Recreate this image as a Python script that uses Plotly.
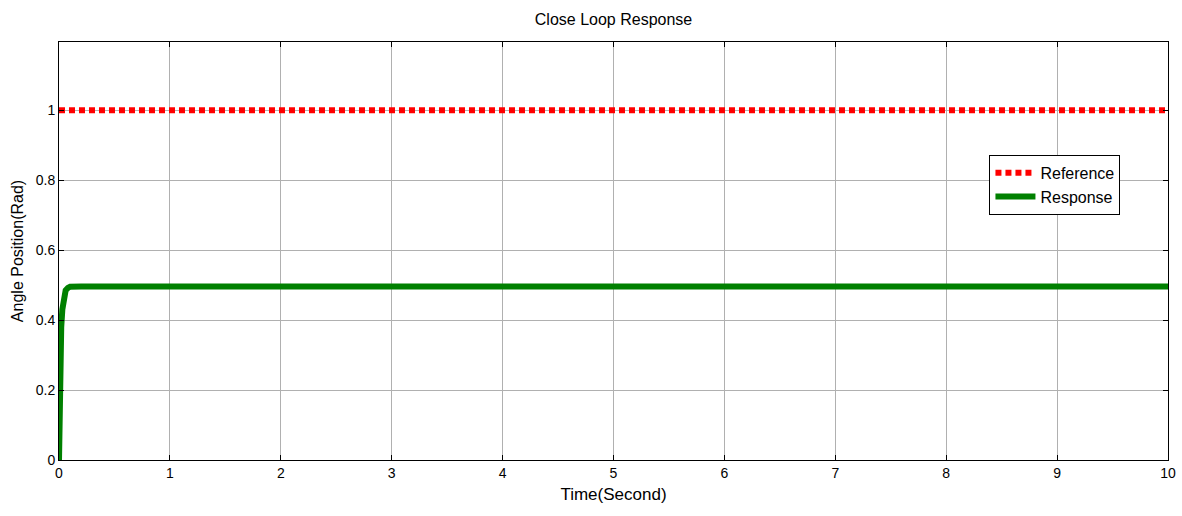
import plotly.graph_objects as go

time_ref = [0, 10]
reference = [1.0, 1.0]

time_resp = [0, 0.002, 0.005, 0.01, 0.015, 0.02, 0.03, 0.04, 0.05, 0.06, 0.08, 0.1, 0.2, 1, 2, 3, 4, 5, 6, 7, 8, 9, 10]
response = [0, 0.05, 0.15, 0.26, 0.33, 0.38, 0.43, 0.46, 0.475, 0.485, 0.492, 0.495, 0.496, 0.496, 0.496, 0.496, 0.496, 0.496, 0.496, 0.496, 0.496, 0.496, 0.496]

x_ticks = list(range(0, 11))
y_ticks = [0, 0.2, 0.4, 0.6, 0.8, 1]
y_tick_text = ["0", "0.2", "0.4", "0.6", "0.8", "1"]

font_family = "Liberation Sans Narrow, Arial Narrow, Liberation Sans, Arial"

fig = go.Figure()
fig.add_trace(go.Scatter(x=time_ref, y=reference, mode="lines", name="Reference",
                         line=dict(color="#ff0000", width=6, dash="6px,4px")))
fig.add_trace(go.Scatter(x=time_resp, y=response, mode="lines", name="Response",
                         line=dict(color="#008000", width=6)))

axis_common = dict(showline=True, linecolor="black", linewidth=1, mirror="allticks",
                   ticks="inside", ticklen=5, tickcolor="black",
                   showgrid=True, gridcolor="#b0b0b0", gridwidth=1, zeroline=False,
                   automargin=False,
                   tickfont=dict(family=font_family, size=14, color="black"))

fig.update_layout(
    width=1182, height=516,
    margin=dict(l=59, r=14, t=42, b=56, autoexpand=False),
    paper_bgcolor="white", plot_bgcolor="white",
    title=dict(text="Close Loop Response", x=0.5, xref="paper", y=0.963, yref="container",
               xanchor="center", yanchor="middle",
               font=dict(family=font_family, size=16, color="black")),
    xaxis=dict(range=[0, 10], tickvals=x_ticks,
               title=dict(text="Time(Second)", font=dict(family=font_family, size=17, color="black"), standoff=8),
               **axis_common),
    yaxis=dict(range=[0, 1.195], tickvals=y_ticks, ticktext=y_tick_text,
               title=dict(text="Angle Position(Rad)", font=dict(family="Liberation Sans, Arial", size=16, color="black"), standoff=8),
               **axis_common),
    legend=dict(x=0.839, y=0.73, xanchor="left", yanchor="top",
                bordercolor="black", borderwidth=1, bgcolor="white",
                font=dict(family=font_family, size=16, color="black"),
                itemwidth=40, tracegroupgap=0),
    showlegend=True,
)

fig.write_html("out.html")
